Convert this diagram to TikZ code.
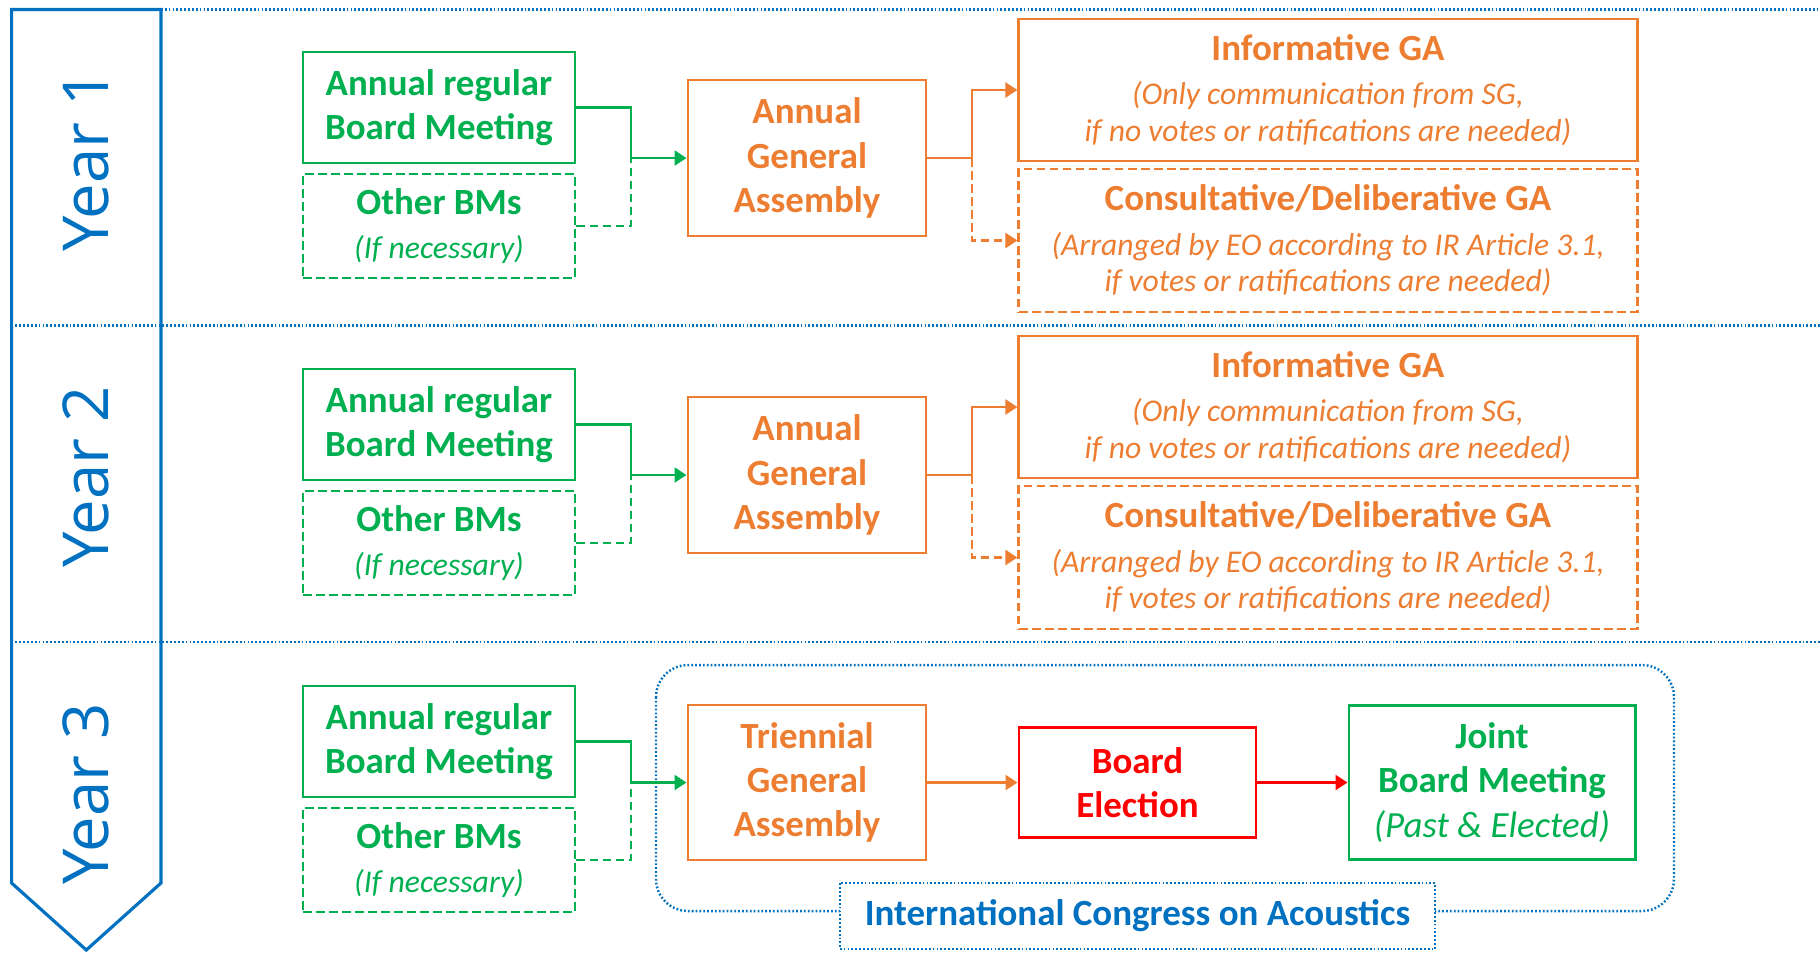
\documentclass[tikz,border=0pt]{standalone}
\usepackage{fontspec}
\setmainfont{Carlito}
\newfontfamily\yearfont{Open Sans}
\usetikzlibrary{arrows.meta}

\definecolor{icagreen}{RGB}{0,176,80}
\definecolor{icaorange}{RGB}{237,125,49}
\definecolor{icared}{RGB}{255,0,0}
\definecolor{icablue}{RGB}{0,112,192}

\newcommand{\boxnote}[1]{{\fontsize{9}{10.8}\selectfont\mdseries\itshape #1}}

\tikzset{
	box/.style={draw, line width=0.8pt, align=center, inner sep=0pt, font=\fontsize{10.5}{12.6}\selectfont\bfseries},
	gbox/.style={box, draw=icagreen, text=icagreen},
	obox/.style={box, draw=icaorange, text=icaorange},
	rbox/.style={box, draw=icared, text=icared},
	opt/.style={dash pattern=on 2.5pt off 1.2pt},
	bmbox/.style={minimum width=2.72cm, minimum height=1.11cm},
	othbox/.style={minimum width=2.72cm, minimum height=1.04cm, opt},
	gabox/.style={minimum width=2.38cm, minimum height=1.56cm},
	gatype/.style={minimum width=6.18cm, minimum height=1.42cm},
	sep/.style={icablue, line width=0.7pt, dash pattern=on 0.5pt off 0.6pt},
	link/.style={line width=0.8pt, -{Triangle[length=3.4pt,width=4.2pt]}},
	wire/.style={line width=0.8pt},
	yearlabel/.style={rotate=90, text=icablue, font=\yearfont\fontsize{18}{22}\selectfont},
}

\begin{document}
\begin{tikzpicture}[x=0.01cm, y=-0.01cm]
	\useasboundingbox (0,0) rectangle (1820,953);

	% YEAR COLUMN AND DIVIDERS
	\draw[icablue, line width=0.9pt] (161,9.5) -- (11.6,9.5) -- (11.6,883) -- (86.3,950) -- (161,883) -- cycle;
	\draw[sep] (161,9.5) -- (1820,9.5);
	\draw[sep] (11.6,325.5) -- (1820,325.5);
	\draw[sep] (11.6,642) -- (1820,642);

	\node[yearlabel] (y1) at (86,161) {Year 1};
	\node[yearlabel] (y2) at (86,477) {Year 2};
	\node[yearlabel] (y3) at (86,794) {Year 3};

	% YEAR 1
	\node[gbox, bmbox] (arb1) at (439,107.5) {Annual regular\\Board Meeting};
	\node[gbox, othbox] (oth1) at (439,226) {Other BMs\\\boxnote{(If necessary)}};
	\node[obox, gabox] (aga1) at (807,158) {Annual\\General\\Assembly};
	\node[obox, gatype] (inf1) at (1328,90) {Informative GA\\\boxnote{(Only communication from SG,}\\[-2.2pt]\boxnote{if no votes or ratifications are needed)}};
	\node[obox, gatype, opt, minimum height=1.43cm] (con1) at (1328,240.5) {Consultative/Deliberative GA\\\boxnote{(Arranged by EO according to IR Article 3.1,}\\[-2.2pt]\boxnote{if votes or ratifications are needed)}};
	\coordinate (j1) at (631,158);
	\coordinate (k1) at (972,158);

	\draw[wire, icagreen] (arb1.east) -| (j1);
	\draw[wire, icagreen, opt] (oth1.east) -| (j1);
	\draw[link, icagreen] (j1) -- (aga1.west);
	\draw[wire, icaorange] (aga1.east) -- (k1);
	\draw[link, icaorange] (k1) |- (inf1.west);
	\draw[link, icaorange, opt] (k1) |- (con1.west);

	% YEAR 2
	\node[gbox, bmbox] (arb2) at (439,424.5) {Annual regular\\Board Meeting};
	\node[gbox, othbox] (oth2) at (439,543) {Other BMs\\\boxnote{(If necessary)}};
	\node[obox, gabox] (aga2) at (807,475) {Annual\\General\\Assembly};
	\node[obox, gatype] (inf2) at (1328,407) {Informative GA\\\boxnote{(Only communication from SG,}\\[-2.2pt]\boxnote{if no votes or ratifications are needed)}};
	\node[obox, gatype, opt, minimum height=1.43cm] (con2) at (1328,557.5) {Consultative/Deliberative GA\\\boxnote{(Arranged by EO according to IR Article 3.1,}\\[-2.2pt]\boxnote{if votes or ratifications are needed)}};
	\coordinate (j2) at (631,475);
	\coordinate (k2) at (972,475);

	\draw[wire, icagreen] (arb2.east) -| (j2);
	\draw[wire, icagreen, opt] (oth2.east) -| (j2);
	\draw[link, icagreen] (j2) -- (aga2.west);
	\draw[wire, icaorange] (aga2.east) -- (k2);
	\draw[link, icaorange] (k2) |- (inf2.west);
	\draw[link, icaorange, opt] (k2) |- (con2.west);

	% YEAR 3
	\draw[sep, rounded corners=0.32cm] (656,665) rectangle (1674,911);
	\node[draw=icablue, sep, fill=white, text=icablue, inner sep=0pt, minimum width=5.95cm, minimum height=0.66cm, font=\fontsize{10.5}{12.6}\selectfont\bfseries] (ica) at (1137.5,916) {International Congress on Acoustics};

	\node[gbox, bmbox] (arb3) at (439,741.5) {Annual regular\\Board Meeting};
	\node[gbox, othbox] (oth3) at (439,860) {Other BMs\\\boxnote{(If necessary)}};
	\node[obox, gabox, minimum height=1.55cm] (tga) at (807,782.5) {Triennial\\General\\Assembly};
	\node[rbox, minimum width=2.37cm, minimum height=1.10cm] (be) at (1137.5,782.5) {Board\\Election};
	\node[gbox, minimum width=2.86cm, minimum height=1.54cm] (jbm) at (1492,782.5) {Joint\\Board Meeting\\{\mdseries\itshape (Past \& Elected)}};
	\coordinate (j3) at (631,782.5);

	\draw[wire, icagreen] (arb3.east) -| (j3);
	\draw[wire, icagreen, opt] (oth3.east) -| (j3);
	\draw[link, icagreen] (j3) -- (tga.west);
	\draw[link, icaorange] (tga.east) -- (be.west);
	\draw[link, icared] (be.east) -- (jbm.west);
\end{tikzpicture}
\end{document}
